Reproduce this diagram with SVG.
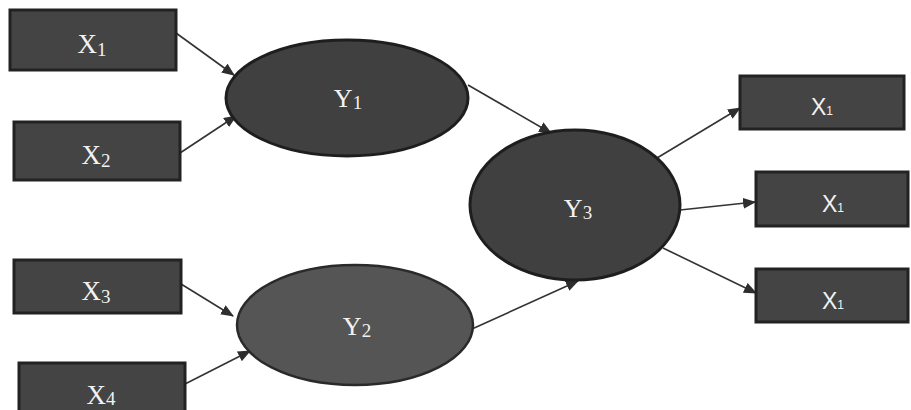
<svg xmlns="http://www.w3.org/2000/svg" width="911" height="410" viewBox="0 0 911 410">
  <defs>
    <marker id="arrow" viewBox="0 0 12 10" refX="11" refY="5" markerWidth="13" markerHeight="11" markerUnits="userSpaceOnUse" orient="auto">
      <path d="M0,0 L12,5 L0,10 Z" fill="#2e2e2e"/>
    </marker>
    <style>
      .box { fill: #444; stroke: #222; stroke-width: 3; }
      .node { fill: #404040; stroke: #1e1e1e; stroke-width: 3; }
      .node2 { fill: #555; stroke: #2a2a2a; stroke-width: 2.5; }
      .lbl { fill: #f2f2f2; font-family: "Liberation Serif", serif; font-size: 27px; text-anchor: middle; }
      .lbl-y { fill: #f2f2f2; font-family: "Liberation Serif", serif; font-size: 26px; text-anchor: middle; }
      .lbl-s { fill: #f2f2f2; font-family: "Liberation Sans", sans-serif; font-size: 23px; text-anchor: middle; }
      .sub { font-size: 19px; }
      .sub-s { font-size: 12px; }
      .edge { stroke: #333; stroke-width: 1.6; fill: none; marker-end: url(#arrow); }
    </style>
  </defs>
  <rect width="911" height="410" fill="#ffffff"/>

  <g id="connectors">
    <line class="edge" x1="176" y1="33" x2="234" y2="75"/>
    <line class="edge" x1="180" y1="153" x2="236" y2="116"/>
    <line class="edge" x1="468" y1="85" x2="551" y2="133"/>
    <line class="edge" x1="181" y1="284" x2="233" y2="316"/>
    <line class="edge" x1="185" y1="384" x2="250" y2="351"/>
    <line class="edge" x1="472" y1="329" x2="578" y2="281"/>
    <line class="edge" x1="657" y1="158" x2="740" y2="108"/>
    <line class="edge" x1="680" y1="210" x2="755" y2="202"/>
    <line class="edge" x1="663" y1="248" x2="756" y2="293"/>
  </g>

  <g id="x1">
    <rect class="box" x="10" y="10" width="166" height="60"/>
    <text class="lbl" x="92" y="53">X<tspan class="sub" dy="3">1</tspan></text>
  </g>
  <g id="x2">
    <rect class="box" x="14" y="122" width="166" height="58"/>
    <text class="lbl" x="96" y="164">X<tspan class="sub" dy="3">2</tspan></text>
  </g>
  <g id="x3">
    <rect class="box" x="14" y="260" width="167" height="53"/>
    <text class="lbl" x="96" y="300">X<tspan class="sub" dy="3">3</tspan></text>
  </g>
  <g id="x4">
    <rect class="box" x="19" y="363" width="166" height="55"/>
    <text class="lbl" x="101" y="404">X<tspan class="sub" dy="1">4</tspan></text>
  </g>

  <g id="y1">
    <ellipse class="node" cx="347" cy="98" rx="121" ry="58"/>
    <text class="lbl-y" x="348" y="107">Y<tspan class="sub" dy="2">1</tspan></text>
  </g>
  <g id="y2">
    <ellipse class="node2" cx="355" cy="325" rx="118" ry="60"/>
    <text class="lbl-y" x="357" y="335">Y<tspan class="sub" dy="2">2</tspan></text>
  </g>
  <g id="y3">
    <ellipse class="node" cx="575" cy="205" rx="105" ry="75"/>
    <text class="lbl-y" x="578" y="217">Y<tspan class="sub" dy="2">3</tspan></text>
  </g>

  <g id="out1">
    <rect class="box" x="740" y="76" width="164" height="53"/>
    <text class="lbl-s" x="822" y="115">X<tspan class="sub-s">1</tspan></text>
  </g>
  <g id="out2">
    <rect class="box" x="756" y="172" width="152" height="54"/>
    <text class="lbl-s" x="833" y="212">X<tspan class="sub-s">1</tspan></text>
  </g>
  <g id="out3">
    <rect class="box" x="756" y="269" width="152" height="53"/>
    <text class="lbl-s" x="833" y="309">X<tspan class="sub-s">1</tspan></text>
  </g>
</svg>
